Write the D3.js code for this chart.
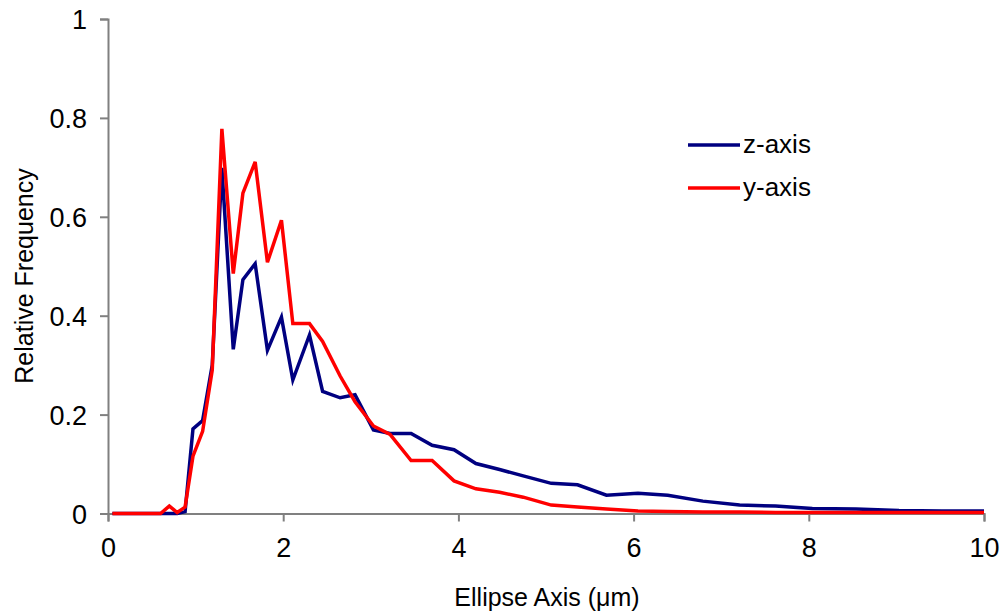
<!DOCTYPE html>
<html>
<head>
<meta charset="utf-8">
<script src="https://cdn.jsdelivr.net/npm/d3@7"></script>
<style>
  body { margin: 0; background: #fff; }
  text { font-family: "Liberation Sans", Arial, sans-serif; }
</style>
</head>
<body>
<div id="chart-container"></div>
<script>
// bin centres (um) and relative frequencies
const axisValues = [0.05, 0.6, 0.7, 0.79, 0.88, 0.97, 1.08, 1.19, 1.30, 1.43, 1.54, 1.68, 1.82, 1.98,
    2.11, 2.30, 2.45, 2.65, 2.82, 3.03, 3.22, 3.46, 3.70, 3.95, 4.20, 4.47, 4.74, 5.06, 5.36,
    5.69, 6.05, 6.39, 6.79, 7.21, 7.62, 8.04, 8.54, 9.03, 9.52, 10.0];
const zAxis = [0, 0, 0, 0, 0.004, 0.171, 0.188, 0.30, 0.699, 0.332, 0.473, 0.505, 0.33, 0.397,
    0.27, 0.361, 0.247, 0.234, 0.24, 0.169, 0.162, 0.162, 0.138, 0.129, 0.101, 0.089, 0.076,
    0.061, 0.058, 0.037, 0.041, 0.037, 0.025, 0.017, 0.015, 0.01, 0.009, 0.006, 0.005, 0.005];
const yAxis = [0, 0, 0.015, 0.002, 0.013, 0.116, 0.166, 0.29, 0.778, 0.485, 0.648, 0.711, 0.508, 0.593,
    0.384, 0.384, 0.348, 0.278, 0.226, 0.177, 0.16, 0.107, 0.107, 0.066, 0.05, 0.043, 0.033,
    0.017, 0.013, 0.009, 0.005, 0.004, 0.003, 0.003, 0.002, 0.002, 0.002, 0.002, 0.002, 0.002];
const xTicks = [0, 2, 4, 6, 8, 10];
const yTicks = [0, 0.2, 0.4, 0.6, 0.8, 1];

const series = [
    { name: "z-axis", values: zAxis, color: "#000080" },
    { name: "y-axis", values: yAxis, color: "#ff0000" }
];

const width = 1003, height = 613;
const margin = { top: 19, right: 19, bottom: 99.5, left: 108 };

const svg = d3.select("#chart-container")
    .append("svg")
    .attr("width", width)
    .attr("height", height);

const xScale = d3.scaleLinear().domain([0, 10]).range([margin.left, width - margin.right]);
const yScale = d3.scaleLinear().domain([0, 1]).range([height - margin.bottom, margin.top]);

// axes
const xAxis = svg.append("g")
    .attr("transform", `translate(0,${yScale(0)})`)
    .call(d3.axisBottom(xScale).tickValues(xTicks).tickFormat(d3.format("d")).tickSize(8).tickPadding(16));
const yAxisG = svg.append("g")
    .attr("transform", `translate(${xScale(0)},0)`)
    .call(d3.axisLeft(yScale).tickValues(yTicks).tickFormat(d => d === 0 || d === 1 ? d : d.toFixed(1)).tickSize(8).tickPadding(13));

[xAxis, yAxisG].forEach(g => {
    g.select(".domain").attr("stroke", "#808080").attr("stroke-width", 2);
    g.selectAll(".tick line").attr("stroke", "#808080").attr("stroke-width", 2);
    g.selectAll(".tick text")
        .attr("fill", "#000")
        .style("font-size", "27px")
        .style("font-family", "'Liberation Sans', Arial, sans-serif");
});
yAxisG.selectAll(".tick text").attr("dy", "0.36em");

// lines
const line = d3.line()
    .x((d, i) => xScale(axisValues[i]))
    .y(d => yScale(d));

svg.selectAll(".series")
    .data(series)
    .enter()
    .append("path")
    .attr("class", "series")
    .attr("fill", "none")
    .attr("stroke", d => d.color)
    .attr("stroke-width", 3.5)
    .attr("stroke-linejoin", "miter")
    .attr("d", d => line(d.values));

// axis titles
svg.append("text")
    .attr("x", 547)
    .attr("y", 606)
    .attr("text-anchor", "middle")
    .style("font-size", "25px")
    .text("Ellipse Axis (μm)");

svg.append("text")
    .attr("transform", "rotate(-90)")
    .attr("x", -276)
    .attr("y", 33)
    .attr("text-anchor", "middle")
    .style("font-size", "25px")
    .text("Relative Frequency");

// legend
const legend = svg.append("g").attr("transform", "translate(688,145)");
const legendItems = legend.selectAll(".legend")
    .data(series)
    .enter()
    .append("g")
    .attr("class", "legend")
    .attr("transform", (d, i) => `translate(0,${i * 43})`);

legendItems.append("line")
    .attr("x1", 0).attr("x2", 52)
    .attr("stroke", d => d.color)
    .attr("stroke-width", 3.5);

legendItems.append("text")
    .attr("x", 55)
    .attr("y", 8)
    .style("font-size", "26px")
    .text(d => d.name);
</script>
</body>
</html>
